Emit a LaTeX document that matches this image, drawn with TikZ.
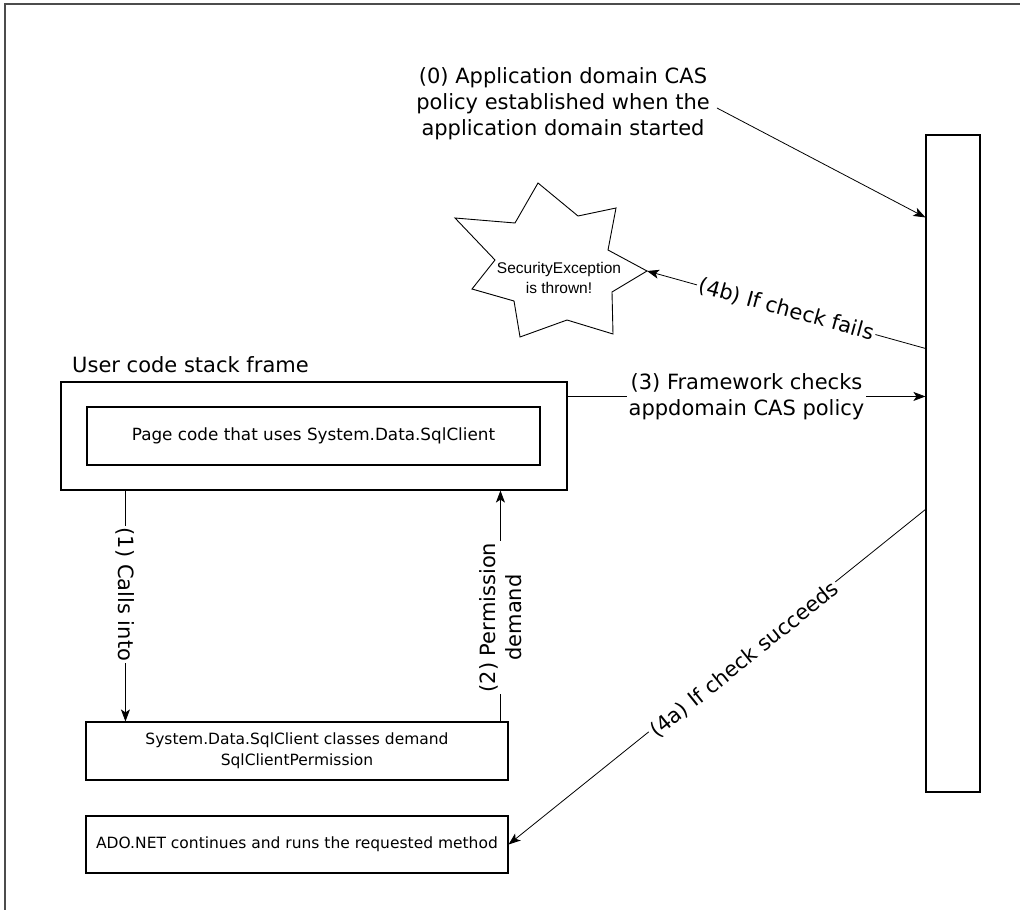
\documentclass[tikz,border=0pt]{standalone}
\usepackage{fontspec}
\setmainfont{DejaVu Sans}
\newfontfamily\arialf{Liberation Sans}
\usetikzlibrary{arrows.meta,calc}
\begin{document}
\begin{tikzpicture}[x=1pt,y=-1pt,
  box/.style={draw, line width=1.1pt, inner sep=0pt},
  arr/.style={-{Stealth[length=12pt,width=9pt,inset=3pt]}, line width=0.8pt},
  big/.style={font=\fontsize{21}{26}\selectfont, align=center},
  mid/.style={font=\fontsize{15.5}{21}\selectfont, align=center},
  lab/.style={big, fill=white, inner sep=2pt}]
\useasboundingbox (0,0) rectangle (1020,910);
% frame
\draw[line width=1.6pt, black!70] (1020,4) -- (5,4) -- (5,910);
% nodes
\node[box, minimum width=54pt, minimum height=657pt] (tall) at (953,463.5) {};
\node[box, minimum width=506pt, minimum height=108pt] (outer) at (314,436) {};
\node[box, font=\fontsize{16.8}{21}\selectfont, minimum width=453pt, minimum height=58pt] (inner) at (313.5,436) {Page code that uses System.Data.SqlClient};
\node[big, anchor=base west, inner sep=0pt] (title) at (72,372) {User code stack frame};
\node[box, mid, minimum width=422pt, minimum height=58pt] (lower) at (297,751) {System.Data.SqlClient classes demand\\SqlClientPermission};
\node[box, mid, minimum width=422pt, minimum height=57pt] (ado) at (297,844.5) {ADO.NET continues and runs the requested method};
\node[big, inner sep=2pt] (lbl0) at (563,104) {(0) Application domain CAS\\policy established when the\\application domain started};
% star
\draw[line width=0.9pt, fill=white] (538,183) -- (578,216) -- (616,208) -- (608,250) -- (647,271) -- (612,292) -- (613,334) -- (567,320) -- (520,337) -- (514,301) -- (472,289) -- (495,260) -- (455,218) -- (515,223) -- cycle;
\coordinate (startip) at (647,271);
\node[font=\arialf\fontsize{15.5}{20}\selectfont, align=center] (startext) at (559,278) {SecurityException\\is thrown!};
% connectors
\draw[arr] ([xshift=5pt,yshift=-4pt]lbl0.east) -- ([yshift=-83pt]tall.north west);
\draw[arr] ([yshift=-214pt]tall.north west) -- node[lab, sloped, pos=0.5] {(4b) If check fails} (startip);
\coordinate (p3) at ([yshift=-15pt]outer.north east);
\draw[arr] (p3) -- node[lab, pos=0.5] {(3) Framework checks\\appdomain CAS policy} (p3 -| tall.west);
\draw[arr] ([yshift=-375pt]tall.north west) -- node[lab, sloped, pos=0.44, yshift=-4pt] {(4a) If check succeeds} (ado.east);
\coordinate (c1) at ([xshift=65pt]outer.south west);
\draw[arr] (c1) -- node[lab, rotate=-90, pos=0.45] {(1) Calls into} (c1 |- lower.north);
\coordinate (c2) at ([xshift=415pt]lower.north west);
\draw[arr] (c2) -- node[lab, rotate=90, pos=0.45] {(2) Permission\\demand} (c2 |- outer.south);
\end{tikzpicture}
\end{document}
